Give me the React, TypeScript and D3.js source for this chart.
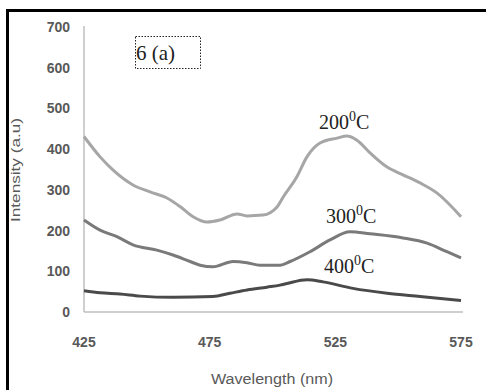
import React from "react";
import * as d3 from "d3";

const wl200 = [425, 431.4, 436.5, 444.5, 451.3, 458, 463.2, 468.4, 473.9, 479.1, 485.9, 489.9, 496.2, 501.8, 504.2, 509.7, 513.7, 518.9, 525.7, 529.6, 533.6, 538.8, 545.6, 551.9, 558.7, 565.5, 575];
const v200 = [431, 381, 349, 312, 295, 280, 259, 234, 221, 226, 241, 236, 238, 258, 282, 332, 381, 415, 427, 432, 422, 391, 356, 337, 317, 292, 234];

const wl300 = [425, 431.4, 438.1, 444.5, 454, 460.4, 467.2, 471.2, 476.3, 484.3, 489.9, 495, 503, 507, 514.9, 522.9, 530.8, 538.8, 551.9, 561.5, 569.4, 575];
const v300 = [226, 201, 185, 165, 152, 140, 124, 115, 111, 124, 121, 115, 115, 124, 148, 177, 197, 192, 182, 169, 148, 133];

const wl400 = [425, 431.4, 439.3, 447.3, 460.4, 476.3, 483.1, 489.9, 497.8, 503, 505.8, 513.7, 520.1, 532, 545.6, 558.7, 575];
const v400 = [52, 47, 44, 39, 36, 38, 46, 54, 61, 66, 70, 79, 74, 58, 46, 38, 28];

const yTicks = [0, 100, 200, 300, 400, 500, 600, 700];
const xTicks = [425, 475, 525, 575];

const seriesLabels = ["200", "300", "400"];

export default function App() {
  const W = 486, H = 390;
  const x = d3.scaleLinear().domain([425, 575]).range([84, 461]);
  const y = d3.scaleLinear().domain([0, 700]).range([312, 27]);
  const line = d3.line<[number, number]>().x(d => x(d[0])).y(d => y(d[1])).curve(d3.curveMonotoneX);
  const series = [
    { w: wl200, v: v200, color: "#a6a6a6", label: seriesLabels[0], lx: 319, ly: 129 },
    { w: wl300, v: v300, color: "#7a7a7a", label: seriesLabels[1], lx: 326, ly: 223 },
    { w: wl400, v: v400, color: "#4a4a4a", label: seriesLabels[2], lx: 324, ly: 273 },
  ];
  const tickFont = "'Liberation Sans', Arial, sans-serif";
  const serif = "'Liberation Serif', 'Times New Roman', serif";
  return (
    <svg width={W} height={H} style={{ position: "absolute", left: 0, top: 0 }}>
      <rect x={0} y={0} width={W} height={H} fill="#fff" />
      <line x1={7.5} y1={10} x2={7.5} y2={H} stroke="#000" strokeWidth={3} />
      <line x1={6} y1={10.5} x2={W} y2={10.5} stroke="#000" strokeWidth={3} />
      <line x1={x(425)} y1={y(700) - 1} x2={x(425)} y2={y(0)} stroke="#bfbfbf" strokeWidth={1.5} />
      <line x1={x(425)} y1={y(0)} x2={x(575) + 2} y2={y(0)} stroke="#bfbfbf" strokeWidth={1.5} />
      {yTicks.map(t => (
        <text key={t} x={70} y={y(t) + 5} textAnchor="end" fontFamily={tickFont} fontWeight="bold" fontSize={14} fill="#595959">{t}</text>
      ))}
      {xTicks.map(t => (
        <text key={t} x={x(t)} y={347} textAnchor="middle" fontFamily={tickFont} fontWeight="bold" fontSize={14} fill="#595959">{t}</text>
      ))}
      <text x={272} y={384} textAnchor="middle" fontFamily={tickFont} fontSize={14} fill="#595959" textLength={122} lengthAdjust="spacingAndGlyphs">Wavelength (nm)</text>
      <text transform={`translate(20,170) rotate(-90)`} textAnchor="middle" fontFamily={tickFont} fontSize={13} fill="#595959" textLength={104} lengthAdjust="spacingAndGlyphs">Intensity (a.u)</text>
      {series.map(s => (
        <path key={s.label} d={line(s.w.map((w, i) => [w, s.v[i]] as [number, number])) || ""} fill="none" stroke={s.color} strokeWidth={3} strokeLinejoin="round" />
      ))}
      {series.map(s => (
        <text key={"l" + s.label} x={s.lx} y={s.ly} fontFamily={serif} fontSize={20} fill="#222">
          {s.label}<tspan fontSize={14} dy={-8}>0</tspan><tspan dy={8}>C</tspan>
        </text>
      ))}
      <rect x={135.5} y={36.5} width={65} height={32} fill="none" stroke="#222" strokeWidth={1} strokeDasharray="1.5,1.5" />
      <text x={136} y={60} fontFamily={serif} fontSize={21} fill="#222">6 (a)</text>
    </svg>
  );
}
